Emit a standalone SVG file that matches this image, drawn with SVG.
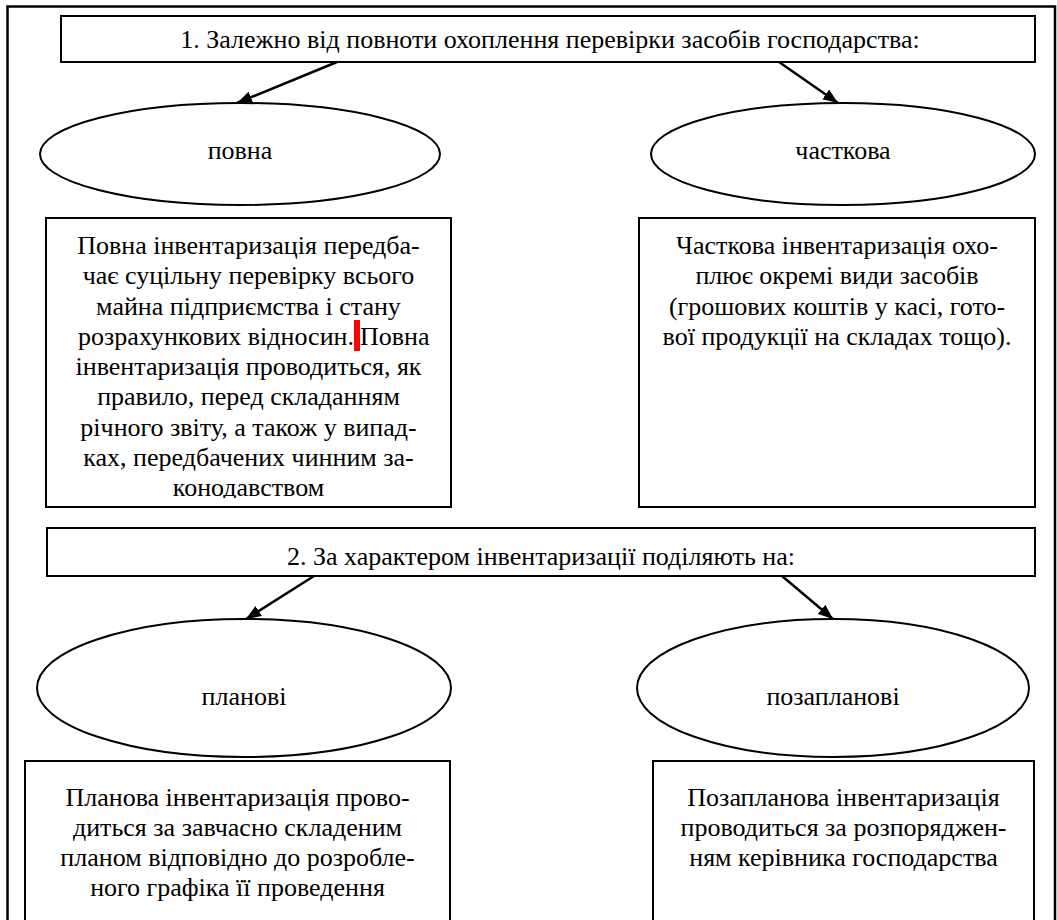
<svg xmlns="http://www.w3.org/2000/svg" width="1057" height="920" viewBox="0 0 1057 920" font-family="'Liberation Serif', 'Times New Roman', 'DejaVu Serif', serif">
<defs>
<style>
.frame{fill:none;stroke:#000;stroke-width:2.5}
.box{fill:#fff;stroke:#000;stroke-width:2}
.ell{fill:#fff;stroke:#000;stroke-width:2}
.conn{fill:none;stroke:#000;stroke-width:2.5}
.t{font-family:'Liberation Serif','Times New Roman','DejaVu Serif',serif;font-size:26px;fill:#000;text-anchor:middle}
.s{text-anchor:start}
.e{text-anchor:end}
</style>
<marker id="ah" markerUnits="userSpaceOnUse" markerWidth="16" markerHeight="12" refX="15" refY="6" orient="auto">
<path d="M0,0 L15,6 L0,12 z" fill="#000"/>
</marker>
<clipPath id="clip1"><rect x="46" y="218" width="405" height="280"/></clipPath>
</defs>
<rect width="1057" height="920" fill="#fff"/>
<path class="frame" d="M7.5,925 V6.5 H1055 V925"/>

<g id="section1-header">
<rect class="box" x="61" y="16" width="974" height="46"/>
<text class="t" x="550" y="48">1. Залежно від повноти охоплення перевірки засобів господарства:</text>
</g>

<g id="povna">
<ellipse class="ell" cx="240" cy="154" rx="200" ry="51"/>
<text class="t" x="240" y="159">повна</text>
</g>

<g id="chastkova">
<ellipse class="ell" cx="843" cy="154" rx="192" ry="51"/>
<text class="t" x="843" y="159">часткова</text>
</g>

<g id="povna-desc">
<rect class="box" x="46" y="218" width="405" height="289"/>
<g clip-path="url(#clip1)">
<text class="t" x="248.5" y="254">Повна інвентаризація передба-</text>
<text class="t" x="248.5" y="284">чає суцільну перевірку всього</text>
<text class="t" x="248.5" y="315">майна підприємства і стану</text>
<text class="t e" x="354" y="345">розрахункових відносин.</text>
<text class="t s" x="360" y="345">Повна</text>
<text class="t" x="248.5" y="375">інвентаризація проводиться, як</text>
<text class="t" x="248.5" y="405">правило, перед складанням</text>
<text class="t" x="248.5" y="436">річного звіту, а також у випад-</text>
<text class="t" x="248.5" y="466">ках, передбачених чинним за-</text>
<text class="t" x="248.5" y="496">конодавством</text>
</g>
<rect x="354" y="320" width="6" height="31" fill="#ff0000"/>
</g>

<g id="chastkova-desc">
<rect class="box" x="639" y="218" width="396" height="289"/>
<text class="t" x="837" y="254">Часткова інвентаризація охо-</text>
<text class="t" x="837" y="284">плює окремі види засобів</text>
<text class="t" x="837" y="315">(грошових коштів у касі, гото-</text>
<text class="t" x="837" y="345">вої продукції на складах тощо).</text>
</g>

<g id="section2-header">
<rect class="box" x="47" y="528" width="988" height="48"/>
<text class="t" x="541" y="565">2. За характером інвентаризації поділяють на:</text>
</g>

<g id="planovi">
<ellipse class="ell" cx="244" cy="688" rx="207" ry="69"/>
<text class="t" x="244" y="705">планові</text>
</g>

<g id="pozaplanovi">
<ellipse class="ell" cx="833" cy="688" rx="196" ry="69"/>
<text class="t" x="833" y="705">позапланові</text>
</g>

<g id="planovi-desc">
<path class="box" d="M25,925 V761 H450 V925"/>
<text class="t" x="237.5" y="806">Планова інвентаризація прово-</text>
<text class="t" x="237.5" y="836">диться за завчасно складеним</text>
<text class="t" x="237.5" y="866">планом відповідно до розробле-</text>
<text class="t" x="237.5" y="896">ного графіка її проведення</text>
</g>

<g id="pozaplanovi-desc">
<path class="box" d="M653,925 V761 H1034 V925"/>
<text class="t" x="843.5" y="806">Позапланова інвентаризація</text>
<text class="t" x="843.5" y="836">проводиться за розпоряджен-</text>
<text class="t" x="843.5" y="866">ням керівника господарства</text>
</g>

<g id="connectors">
<line class="conn" x1="337" y1="62" x2="237" y2="103" marker-end="url(#ah)"/>
<line class="conn" x1="779" y1="62" x2="838" y2="103" marker-end="url(#ah)"/>
<line class="conn" x1="314" y1="576" x2="246" y2="619" marker-end="url(#ah)"/>
<line class="conn" x1="782" y1="576" x2="833" y2="619" marker-end="url(#ah)"/>
</g>
</svg>
